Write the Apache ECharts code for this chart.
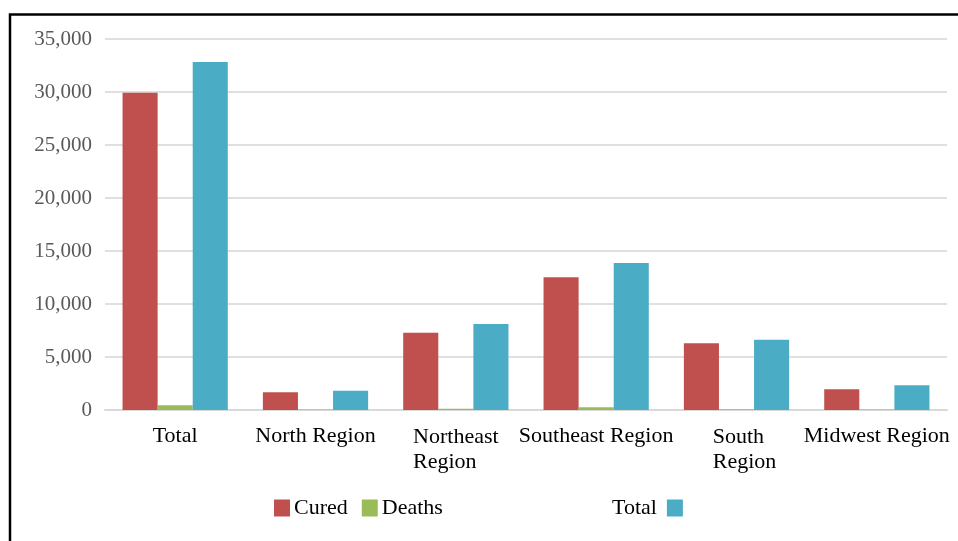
<!DOCTYPE html>
<html>
<head>
<meta charset="utf-8">
<script src="https://cdn.jsdelivr.net/npm/echarts@6/dist/echarts.min.js"></script>
<style>
html,body{margin:0;padding:0;background:#fff;}
#c{width:958px;height:541px;}
</style>
</head>
<body>
<div id="c"></div>
<script>
const categories = ['Total', 'North Region', 'Northeast\nRegion', 'Southeast Region', 'South\nRegion', 'Midwest Region'];
const cured  = [29940, 1670, 7290, 12520, 6290, 1950];
const deaths = [440, 40, 110, 250, 60, 40];
const total  = [32830, 1820, 8110, 13870, 6630, 2330];
const yTicks = [0, 5000, 10000, 15000, 20000, 25000, 30000, 35000];

const serif = '"Liberation Serif", "Times New Roman", serif';
const chart = echarts.init(document.getElementById('c'));
chart.setOption({
  animation: false,
  backgroundColor: '#fff',
  graphic: [{
    type: 'rect',
    shape: { x: 10, y: 14.5, width: 1000, height: 600 },
    style: { fill: 'none', stroke: '#000', lineWidth: 2.5 },
    silent: true
  }],
  grid: { left: 105, right: 11, top: 39, bottom: 131, containLabel: false },
  legend: [{
    data: ['Cured', 'Deaths'],
    left: 274, top: 497, padding: 0,
    icon: 'rect', itemWidth: 16, itemHeight: 17, itemGap: 14,
    textStyle: { fontFamily: serif, fontSize: 22, color: '#000', padding: [0, 0, 6, -1] }
  }, {
    data: ['Total'],
    left: 612, top: 497, padding: 0, align: 'right',
    icon: 'rect', itemWidth: 16, itemHeight: 17,
    textStyle: { fontFamily: serif, fontSize: 22, color: '#000', padding: [0, 5, 6, 0] }
  }],
  xAxis: {
    type: 'category',
    data: categories,
    axisTick: { show: false },
    axisLine: { lineStyle: { color: '#d9d9d9', width: 2 } },
    axisLabel: {
      interval: 0,
      margin: 14,
      color: '#000',
      fontFamily: serif,
      fontSize: 22,
      lineHeight: 25,
      formatter: function (v) {
        if (v.indexOf('\n') >= 0) {
          const key = v.indexOf('South') === 0 ? 's' : 'l';
          return v.split('\n').map(function (s) { return '{' + key + '|' + s + '}'; }).join('\n');
        }
        return v;
      },
      rich: {
        l: { align: 'left', fontFamily: serif, fontSize: 22, lineHeight: 25, color: '#000', padding: [2, 0, 0, 0] },
        s: { align: 'left', fontFamily: serif, fontSize: 22, lineHeight: 25, color: '#000', padding: [2, 0, 0, 16] }
      }
    }
  },
  yAxis: {
    type: 'value',
    min: yTicks[0],
    max: yTicks[yTicks.length - 1],
    interval: 5000,
    axisLine: { show: false },
    axisTick: { show: false },
    splitLine: { lineStyle: { color: '#e0e0e0', width: 2 } },
    axisLabel: {
      margin: 13,
      color: '#595959',
      fontFamily: serif,
      fontSize: 21,
      padding: [5, 0, 0, 0],
      formatter: function (v) { return v.toLocaleString('en-US'); }
    }
  },
  series: [{
    name: 'Cured', type: 'bar', data: cured,
    itemStyle: { color: '#C0504D' },
    barGap: '0%', barCategoryGap: '25%'
  }, {
    name: 'Deaths', type: 'bar', data: deaths,
    itemStyle: { color: '#9BBB59' },
    barGap: '0%', barCategoryGap: '25%'
  }, {
    name: 'Total', type: 'bar', data: total,
    itemStyle: { color: '#4BACC6' },
    barGap: '0%', barCategoryGap: '25%'
  }]
});
</script>
</body>
</html>
